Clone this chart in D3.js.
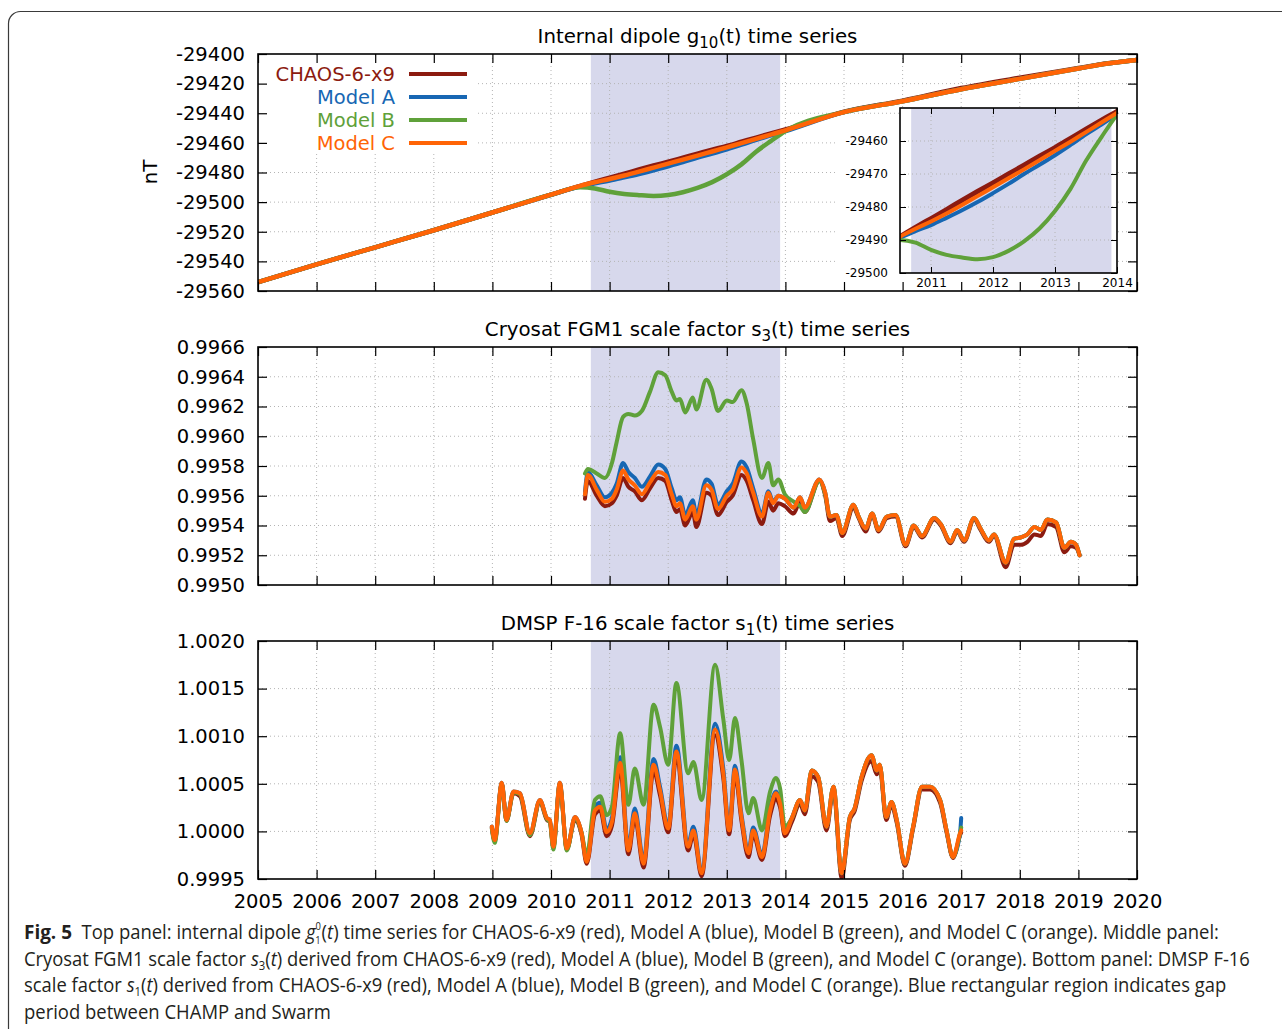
<!DOCTYPE html>
<html><head><meta charset="utf-8">
<script src="https://cdn.jsdelivr.net/npm/d3@7"></script>
<style>body{margin:0;background:#fff}svg{display:block}</style>
</head><body>
<svg id="chart" width="1282" height="1029"></svg>
<script>
// ---------------- DATA ----------------
const gapStart = 2010.68, gapEnd = 2013.91;
const yearTicks = [2005,2006,2007,2008,2009,2010,2011,2012,2013,2014,2015,2016,2017,2018,2019,2020];
const seriesNames = ["CHAOS-6-x9","Model A","Model B","Model C"];
const seriesColors = ["#8c1b10","#1767b3","#5fa13a","#ff6406"];

// Top panel: g10(t) in nT
const g10Ticks = [-29400,-29420,-29440,-29460,-29480,-29500,-29520,-29540,-29560];
const g10Years = [2005,2006,2007,2008,2009,2010,2010.5,2010.75,2011,2011.25,2011.5,2011.75,2012,2012.25,2012.5,2012.75,2013,2013.25,2013.5,2013.75,2014,2015,2016,2017,2018,2019,2019.5,2020];
const g10Chaos = [-29554,-29542,-29530.5,-29519,-29507,-29495,-29489,-29486.2,-29483.5,-29480.8,-29478,-29475.3,-29472.7,-29470,-29467.3,-29464.6,-29462,-29459.2,-29456.4,-29453.7,-29451,-29439,-29431.5,-29423,-29416,-29409.5,-29406.3,-29404];
const g10ModelA = [-29554,-29542,-29530.5,-29519,-29507,-29495,-29489.3,-29487.3,-29485.5,-29483.3,-29481,-29478.5,-29475.8,-29473,-29470,-29467.2,-29464.3,-29461.2,-29458,-29455,-29452,-29439.2,-29431.9,-29423.8,-29416.8,-29409.8,-29406.4,-29404];
const g10ModelB = [-29554,-29542,-29530.5,-29519,-29507,-29495,-29490,-29490.8,-29493,-29494.5,-29495.3,-29495.8,-29495.2,-29493.3,-29490.4,-29486.5,-29481.2,-29474.5,-29466,-29458.8,-29452,-29439.2,-29431.9,-29423.8,-29416.8,-29409.8,-29406.4,-29404];
const g10ModelC = [-29554,-29542,-29530.5,-29519,-29507,-29495,-29489,-29486.6,-29484.4,-29482,-29479.4,-29476.7,-29474,-29471.3,-29468.6,-29465.8,-29463,-29460.2,-29457.3,-29454.4,-29451.5,-29439.2,-29431.9,-29423.8,-29416.8,-29409.8,-29406.4,-29404];
const insetYTicks = [-29460,-29470,-29480,-29490,-29500];
const insetXTicks = [2011,2012,2013,2014];

// Middle panel: Cryosat FGM1 s3(t)
const cryoTicks = [0.9950,0.9952,0.9954,0.9956,0.9958,0.9960,0.9962,0.9964,0.9966];
const cryoT = [2010.58,2010.63,2010.78,2010.92,2011.04,2011.12,2011.23,2011.32,2011.43,2011.55,2011.69,2011.83,2011.95,2012.06,2012.14,2012.20,2012.29,2012.42,2012.48,2012.65,2012.74,2012.85,2013.00,2013.10,2013.25,2013.34,2013.45,2013.60,2013.71,2013.79,2013.88,2013.99,2014.14,2014.25,2014.33,2014.58,2014.68,2014.76,2014.87,2014.97,2015.16,2015.25,2015.37,2015.48,2015.59,2015.73,2015.88,2016.05,2016.19,2016.33,2016.54,2016.65,2016.82,2016.93,2017.05,2017.22,2017.33,2017.47,2017.56,2017.76,2017.90,2018.02,2018.13,2018.25,2018.36,2018.47,2018.62,2018.76,2018.87,2018.96,2019.02];
const cryoChaos = [0.99558,0.99570,0.99560,0.99553,0.99555,0.99560,0.99572,0.99566,0.99563,0.99557,0.99565,0.99572,0.99570,0.99557,0.99549,0.99551,0.99540,0.99549,0.99539,0.99562,0.99560,0.99547,0.99556,0.99560,0.99574,0.99570,0.99557,0.99541,0.99556,0.99550,0.99555,0.99553,0.99548,0.99556,0.99549,0.99570,0.99560,0.99543,0.99545,0.99533,0.99552,0.99545,0.99536,0.99547,0.99536,0.99545,0.99546,0.99526,0.99539,0.99532,0.99544,0.99540,0.99528,0.99536,0.99529,0.99544,0.99537,0.99529,0.99533,0.99512,0.99527,0.99527,0.99529,0.99534,0.99533,0.99541,0.99539,0.99522,0.99526,0.99525,0.99520];
const cryoModelA = [0.99563,0.99576,0.99567,0.99559,0.99562,0.99568,0.99582,0.99576,0.99572,0.99566,0.99573,0.99581,0.99578,0.99565,0.99557,0.99559,0.99547,0.99557,0.99547,0.99571,0.99568,0.99554,0.99563,0.99568,0.99583,0.99579,0.99565,0.99548,0.99563,0.99556,0.99560,0.99558,0.99552,0.99559,0.99552,0.99571,0.99562,0.99546,0.99547,0.99535,0.99554,0.99546,0.99538,0.99548,0.99537,0.99546,0.99547,0.99527,0.99540,0.99533,0.99545,0.99541,0.99529,0.99537,0.99530,0.99545,0.99538,0.99530,0.99534,0.99515,0.99531,0.99532,0.99534,0.99539,0.99537,0.99544,0.99542,0.99525,0.99529,0.99527,0.99520];
const cryoModelB = [0.99575,0.99578,0.99575,0.99572,0.99582,0.99596,0.99613,0.99615,0.99614,0.99617,0.99630,0.99643,0.99641,0.99630,0.99624,0.99625,0.99616,0.99626,0.99618,0.99638,0.99632,0.99617,0.99624,0.99623,0.99631,0.99622,0.99598,0.99572,0.99582,0.99567,0.99571,0.99561,0.99556,0.99553,0.99549,0.99570,0.99561,0.99546,0.99547,0.99535,0.99554,0.99546,0.99538,0.99548,0.99537,0.99546,0.99547,0.99527,0.99540,0.99533,0.99545,0.99541,0.99529,0.99537,0.99530,0.99545,0.99538,0.99530,0.99534,0.99515,0.99531,0.99532,0.99534,0.99539,0.99537,0.99544,0.99542,0.99525,0.99529,0.99527,0.99520];
const cryoModelC = [0.99561,0.99574,0.99564,0.99556,0.99558,0.99564,0.99577,0.99571,0.99567,0.99561,0.99569,0.99576,0.99574,0.99561,0.99553,0.99555,0.99544,0.99553,0.99544,0.99567,0.99564,0.99551,0.99560,0.99564,0.99579,0.99575,0.99562,0.99546,0.99562,0.99555,0.99560,0.99558,0.99552,0.99559,0.99552,0.99571,0.99562,0.99546,0.99547,0.99535,0.99554,0.99546,0.99538,0.99548,0.99537,0.99546,0.99547,0.99527,0.99540,0.99533,0.99545,0.99541,0.99529,0.99537,0.99530,0.99545,0.99538,0.99530,0.99534,0.99515,0.99531,0.99532,0.99534,0.99539,0.99537,0.99544,0.99542,0.99525,0.99529,0.99527,0.99520];

// Bottom panel: DMSP F-16 s1(t)
const dmspTicks = [0.9995,1.0000,1.0005,1.0010,1.0015,1.0020];
const dmspT = [2008.99,2009.04,2009.16,2009.24,2009.36,2009.47,2009.64,2009.81,2009.93,2009.98,2010.04,2010.15,2010.27,2010.41,2010.52,2010.61,2010.75,2010.84,2010.95,2011.04,2011.18,2011.32,2011.43,2011.58,2011.75,2011.86,2012.00,2012.14,2012.34,2012.43,2012.57,2012.80,2012.94,2013.04,2013.14,2013.25,2013.37,2013.45,2013.60,2013.74,2013.84,2013.91,2013.99,2014.11,2014.25,2014.33,2014.45,2014.56,2014.70,2014.82,2014.96,2015.10,2015.18,2015.30,2015.47,2015.56,2015.61,2015.72,2015.81,2015.90,2016.04,2016.18,2016.33,2016.47,2016.64,2016.75,2016.86,2016.98,2017.00];
const dmspChaos = [1.00004,0.99990,1.00050,1.00011,1.00040,1.00037,0.99995,1.00031,1.00012,1.00010,0.99983,1.00049,0.99981,1.00012,0.99997,0.99966,1.00018,1.00022,0.99995,1.00006,1.00066,0.99976,1.00014,0.99962,1.00064,1.00038,0.99999,1.00078,0.99980,0.99997,0.99953,1.00101,1.00056,0.99997,1.00060,1.00011,0.99973,0.99997,0.99970,1.00017,1.00034,1.00025,0.99995,1.00010,1.00029,1.00018,1.00058,1.00052,1.00001,1.00043,0.99951,1.00012,1.00021,1.00053,1.00074,1.00060,1.00066,1.00012,1.00028,1.00009,0.99964,1.00003,1.00044,1.00044,1.00030,0.99999,0.99972,0.99996,0.99999];
const dmspModelA = [1.00005,0.99991,1.00051,1.00012,1.00042,1.00040,0.99998,1.00033,1.00014,1.00012,0.99984,1.00051,0.99982,1.00015,0.99999,0.99970,1.00026,1.00030,1.00002,1.00014,1.00078,0.99983,1.00024,0.99969,1.00076,1.00047,1.00006,1.00090,0.99987,1.00005,0.99958,1.00113,1.00066,1.00004,1.00069,1.00018,0.99980,1.00004,0.99975,1.00025,1.00042,1.00031,0.99999,1.00014,1.00033,1.00022,1.00064,1.00057,1.00005,1.00047,0.99956,1.00015,1.00024,1.00057,1.00080,1.00064,1.00070,1.00015,1.00031,1.00012,0.99966,1.00005,1.00047,1.00047,1.00033,1.00001,0.99973,0.99998,1.00014];
const dmspModelB = [1.00003,0.99988,1.00050,1.00011,1.00041,1.00039,0.99996,1.00032,1.00013,1.00010,0.99981,1.00050,0.99980,1.00014,0.99999,0.99975,1.00033,1.00037,1.00017,1.00026,1.00103,1.00028,1.00066,1.00028,1.00133,1.00110,1.00070,1.00156,1.00061,1.00073,1.00033,1.00175,1.00118,1.00075,1.00119,1.00075,1.00019,1.00035,1.00001,1.00042,1.00056,1.00045,1.00005,1.00014,1.00033,1.00022,1.00064,1.00057,1.00005,1.00047,0.99956,1.00015,1.00024,1.00057,1.00080,1.00064,1.00070,1.00015,1.00031,1.00012,0.99966,1.00005,1.00047,1.00047,1.00033,1.00001,0.99973,0.99998,1.00004];
const dmspModelC = [1.00005,0.99991,1.00051,1.00012,1.00042,1.00040,0.99998,1.00033,1.00014,1.00012,0.99984,1.00051,0.99982,1.00015,0.99999,0.99968,1.00022,1.00026,0.99999,1.00010,1.00072,0.99980,1.00019,0.99966,1.00070,1.00043,1.00003,1.00084,0.99984,1.00001,0.99956,1.00107,1.00061,1.00001,1.00065,1.00015,0.99977,1.00001,0.99973,1.00022,1.00040,1.00029,0.99998,1.00014,1.00033,1.00022,1.00064,1.00057,1.00005,1.00047,0.99956,1.00015,1.00024,1.00057,1.00080,1.00064,1.00070,1.00015,1.00031,1.00012,0.99966,1.00005,1.00047,1.00047,1.00033,1.00001,0.99973,0.99998,1.00001];

// ---------------- DRAWING ----------------
const FONT = "'DejaVu Sans', sans-serif";
const TICKFS = 19.5, TITLEFS = 19.8;
const SHADE = "#d7d8ec";
const GRID = "#b4b4b4";
const svg = d3.select("#chart");
svg.append("rect").attr("x",8.5).attr("y",11.5).attr("width",1400).attr("height",1100)
  .attr("rx",12).attr("fill","none").attr("stroke","#3a3a3a").attr("stroke-width",1.2);

const X0 = 258, X1 = 1137;
const x = d3.scaleLinear().domain([2005,2020]).range([X0,X1]);

function toPts(ts, vs){ return ts.map((t,i)=>[t,vs[i]]); }

function panel(o){
  const y = d3.scaleLinear().domain(o.domain).range([o.bottom,o.top]);
  const g = svg.append("g");
  g.append("clipPath").attr("id",o.id).append("rect")
    .attr("x",X0).attr("y",o.top).attr("width",X1-X0).attr("height",o.bottom-o.top);
  g.append("rect").attr("x",x(gapStart)).attr("y",o.top)
    .attr("width",x(gapEnd)-x(gapStart)).attr("height",o.bottom-o.top).attr("fill",SHADE);
  const grid = g.append("g").attr("stroke",GRID).attr("stroke-width",1).attr("stroke-dasharray","1,3");
  grid.selectAll(".gx").data(yearTicks.slice(1,-1)).join("line").attr("class","gx")
    .attr("x1",d=>x(d)).attr("x2",d=>x(d)).attr("y1",o.top).attr("y2",o.bottom);
  grid.selectAll(".gy").data(o.ticks.filter(t=>t!==o.domain[0]&&t!==o.domain[1])).join("line").attr("class","gy")
    .attr("x1",X0).attr("x2",X1).attr("y1",d=>y(d)).attr("y2",d=>y(d));
  const line = d3.line().x(d=>x(d[0])).y(d=>y(d[1])).curve(d3.curveMonotoneX);
  const lg = g.append("g").attr("clip-path",`url(#${o.id})`);
  o.series.forEach((s,i)=>{
    lg.append("path").attr("d",line(toPts(s.t,s.v))).attr("fill","none")
      .attr("stroke",seriesColors[i]).attr("stroke-width",o.lw||4)
      .attr("stroke-linejoin","round").attr("stroke-linecap","round");
  });
  o.y = y; o.g = g;
  return o;
}

function axes(o){
  const g = svg.append("g").attr("font-family",FONT);
  const y = o.y;
  const aB = g.append("g").attr("transform",`translate(0,${o.bottom})`)
    .call(d3.axisBottom(x).tickValues(yearTicks).tickSize(-9).tickPadding(15)
      .tickFormat(o.xLabels ? d=>String(d) : ""));
  const aT = g.append("g").attr("transform",`translate(0,${o.top})`)
    .call(d3.axisTop(x).tickValues(yearTicks).tickSize(-9).tickFormat(""));
  const aL = g.append("g").attr("transform",`translate(${X0},0)`)
    .call(d3.axisLeft(y).tickValues(o.ticks).tickSize(-9).tickPadding(13).tickFormat(o.fmt));
  const aR = g.append("g").attr("transform",`translate(${X1},0)`)
    .call(d3.axisRight(y).tickValues(o.ticks).tickSize(-9).tickFormat(""));
  [aB,aT,aL,aR].forEach(a=>{
    a.select(".domain").remove();
    a.selectAll(".tick line").attr("stroke","#000").attr("stroke-width",1.2);
    a.selectAll("text").attr("font-size",TICKFS).attr("fill","#000").attr("font-family",FONT);
  });
  g.append("rect").attr("x",X0).attr("y",o.top).attr("width",X1-X0).attr("height",o.bottom-o.top)
    .attr("fill","none").attr("stroke","#000").attr("stroke-width",1.6);
}

function title(yb, parts){
  const t = svg.append("text").attr("x",(X0+X1)/2).attr("y",yb).attr("text-anchor","middle")
    .attr("font-family",FONT).attr("font-size",TITLEFS).attr("fill","#000");
  parts.forEach(p=>{
    const s = t.append("tspan").text(p.t);
    if(p.sub){ s.attr("font-size",15).attr("dy",5); }
    if(p.back){ s.attr("dy",-5); }
  });
}

// ---- Top panel ----
const pTop = panel({id:"c1",top:54,bottom:291,domain:[-29560,-29400],ticks:g10Ticks,lw:4.5,
  series:[{t:g10Years,v:g10Chaos},{t:g10Years,v:g10ModelA},{t:g10Years,v:g10ModelB},{t:g10Years,v:g10ModelC}]});
// legend
const leg = svg.append("g").attr("font-family",FONT).attr("font-size",TICKFS);
leg.append("rect").attr("x",259).attr("y",55).attr("width",219).attr("height",97).attr("fill","#fff");
seriesNames.forEach((n,i)=>{
  const yy = 74 + i*23;
  leg.append("text").attr("x",395).attr("y",yy+7).attr("text-anchor","end").attr("fill",seriesColors[i]).text(n);
  leg.append("line").attr("x1",409).attr("x2",467).attr("y1",yy).attr("y2",yy)
    .attr("stroke",seriesColors[i]).attr("stroke-width",4);
});
// white areas behind inset
svg.append("rect").attr("x",838).attr("y",118).attr("width",62).attr("height",172).attr("fill","#fff");
svg.append("rect").attr("x",900).attr("y",273).attr("width",230).attr("height",17).attr("fill","#fff");
axes({top:54,bottom:291,y:pTop.y,ticks:g10Ticks,fmt:d=>String(d),xLabels:false});

// inset
(function(){
  const L=900,R=1117,T=108,B=273;
  const xi = d3.scaleLinear().domain([2010.5,2014]).range([L,R]);
  const yi = d3.scaleLinear().domain([-29500,-29450]).range([B,T]);
  const g = svg.append("g").attr("font-family",FONT);
  g.append("clipPath").attr("id","ci").append("rect").attr("x",L).attr("y",T).attr("width",R-L).attr("height",B-T);
  g.append("rect").attr("x",L).attr("y",T).attr("width",R-L).attr("height",B-T).attr("fill","#fff");
  g.append("rect").attr("x",xi(gapStart)).attr("y",T).attr("width",xi(gapEnd)-xi(gapStart)).attr("height",B-T).attr("fill",SHADE);
  const grid = g.append("g").attr("stroke",GRID).attr("stroke-dasharray","1,3");
  grid.selectAll(".a").data([2011,2012,2013]).join("line").attr("x1",d=>xi(d)).attr("x2",d=>xi(d)).attr("y1",T).attr("y2",B);
  grid.selectAll(".b").data([-29460,-29470,-29480,-29490]).join("line").attr("x1",L).attr("x2",R).attr("y1",d=>yi(d)).attr("y2",d=>yi(d));
  const line = d3.line().x(d=>xi(d[0])).y(d=>yi(d[1])).curve(d3.curveMonotoneX);
  const lg = g.append("g").attr("clip-path","url(#ci)");
  [g10Chaos,g10ModelA,g10ModelB,g10ModelC].forEach((v,i)=>{
    lg.append("path").attr("d",line(toPts(g10Years,v))).attr("fill","none")
      .attr("stroke",seriesColors[i]).attr("stroke-width",i===0?5:4).attr("stroke-linejoin","round");
  });
  const ax = [
    g.append("g").attr("transform",`translate(0,${B})`).call(d3.axisBottom(xi).tickValues(insetXTicks).tickSize(-6).tickPadding(5).tickFormat(d=>String(d))),
    g.append("g").attr("transform",`translate(0,${T})`).call(d3.axisTop(xi).tickValues(insetXTicks).tickSize(-6).tickFormat("")),
    g.append("g").attr("transform",`translate(${L},0)`).call(d3.axisLeft(yi).tickValues(insetYTicks).tickSize(-6).tickPadding(12).tickFormat(d=>String(d))),
    g.append("g").attr("transform",`translate(${R},0)`).call(d3.axisRight(yi).tickValues(insetYTicks).tickSize(-6).tickFormat(""))
  ];
  ax.forEach(a=>{ a.select(".domain").remove(); a.selectAll(".tick line").attr("stroke","#000");
    a.selectAll("text").attr("font-size",12).attr("fill","#000").attr("font-family",FONT); });
  g.append("rect").attr("x",L).attr("y",T).attr("width",R-L).attr("height",B-T).attr("fill","none").attr("stroke","#000").attr("stroke-width",1.6);
})();

svg.append("text").attr("transform","translate(157,172) rotate(-90)").attr("text-anchor","middle")
  .attr("font-family",FONT).attr("font-size",TITLEFS).text("nT");
title(43,[{t:"Internal dipole g"},{t:"10",sub:1},{t:"(t) time series",back:1}]);

// ---- Middle panel ----
const pMid = panel({id:"c2",top:347,bottom:585,domain:[0.9950,0.9966],ticks:cryoTicks,
  series:[{t:cryoT,v:cryoChaos},{t:cryoT,v:cryoModelA},{t:cryoT,v:cryoModelB},{t:cryoT,v:cryoModelC}]});
axes({top:347,bottom:585,y:pMid.y,ticks:cryoTicks,fmt:d3.format(".4f"),xLabels:false});
title(336,[{t:"Cryosat FGM1 scale factor s"},{t:"3",sub:1},{t:"(t) time series",back:1}]);

// ---- Bottom panel ----
const pBot = panel({id:"c3",top:641,bottom:879,domain:[0.9995,1.0020],ticks:dmspTicks,
  series:[{t:dmspT,v:dmspChaos},{t:dmspT,v:dmspModelA},{t:dmspT,v:dmspModelB},{t:dmspT,v:dmspModelC}]});
axes({top:641,bottom:879,y:pBot.y,ticks:dmspTicks,fmt:d3.format(".4f"),xLabels:true});
title(630,[{t:"DMSP F-16 scale factor s"},{t:"1",sub:1},{t:"(t) time series",back:1}]);

// ---- Caption ----
const CAPFONT = "'Open Sans', 'Noto Sans', sans-serif";
const capLines = [
  {y:939, w:1196, parts:[{t:"Fig. 5",b:1},{t:"  Top panel: internal dipole "},{t:"g",i:1},{t:"0",sup:1},{t:"1",sub2:1},{t:"(",ret:1},{t:"t",i:1},{t:") time series for CHAOS-6-x9 (red), Model A (blue), Model B (green), and Model C (orange). Middle panel:"}]},
  {y:966, w:1227, parts:[{t:"Cryosat FGM1 scale factor "},{t:"s",i:1},{t:"3",sub:1},{t:"(",ret2:1},{t:"t",i:1},{t:") derived from CHAOS-6-x9 (red), Model A (blue), Model B (green), and Model C (orange). Bottom panel: DMSP F-16"}]},
  {y:992, w:1204, parts:[{t:"scale factor "},{t:"s",i:1},{t:"1",sub:1},{t:"(",ret2:1},{t:"t",i:1},{t:") derived from CHAOS-6-x9 (red), Model A (blue), Model B (green), and Model C (orange). Blue rectangular region indicates gap"}]},
  {y:1019, w:307, parts:[{t:"period between CHAMP and Swarm"}]}
];
capLines.forEach(l=>{
  const t = svg.append("text").attr("x",0).attr("y",0).attr("font-family",CAPFONT)
    .attr("font-size",19.5).attr("fill","#231f20").style("white-space","pre");
  l.parts.forEach(p=>{
    const s = t.append("tspan").text(p.t);
    if(p.b) s.attr("font-weight","bold").attr("font-size",20);
    if(p.i) s.attr("font-style","italic");
    if(p.sup) s.attr("font-size",10).attr("dy",-9);
    if(p.sub2) s.attr("font-size",10).attr("dy",14).attr("dx",-6);
    if(p.ret) s.attr("dy",-5).attr("dx",1);
    if(p.sub) s.attr("font-size",12).attr("dy",4);
    if(p.ret2) s.attr("dy",-4);
  });
  const w = t.node().getBBox().width;
  t.attr("transform",`translate(24,${l.y}) scale(${l.w/w},1)`);
});
</script>
</body></html>
